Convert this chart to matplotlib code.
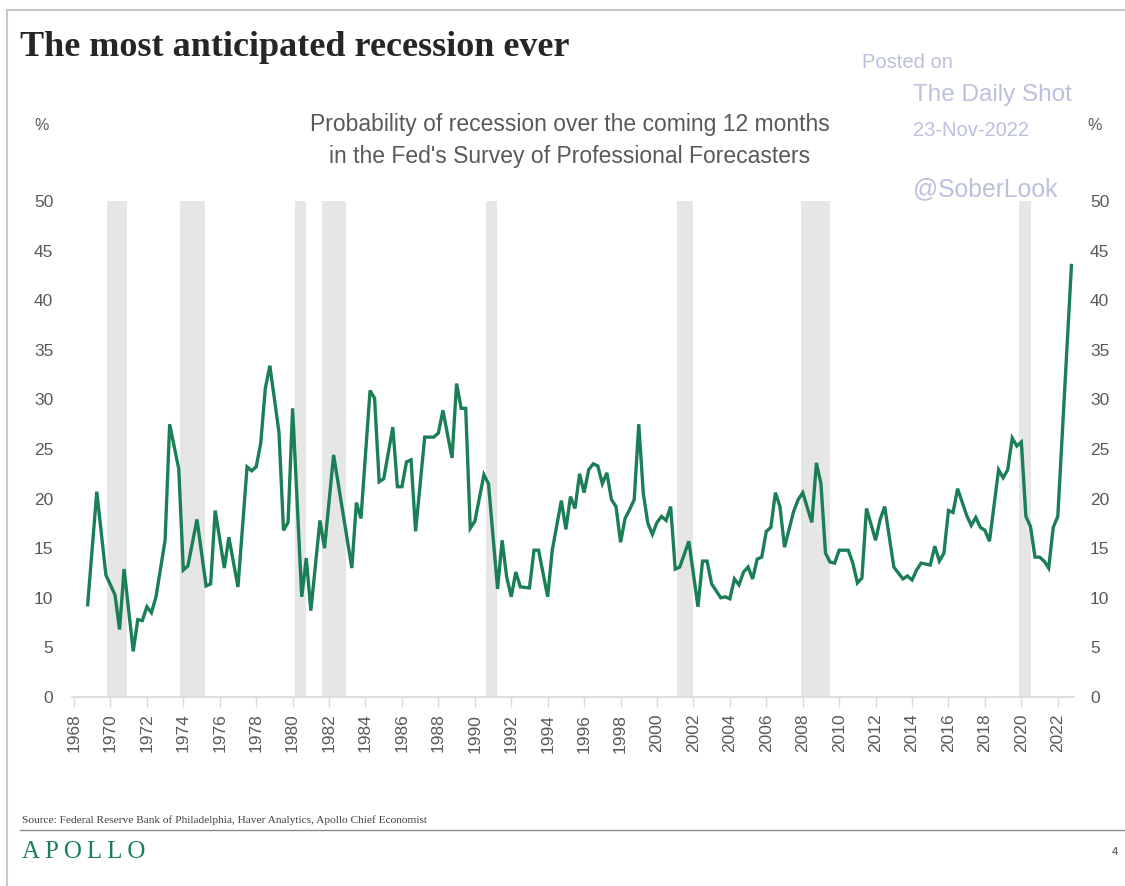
import matplotlib
matplotlib.use("Agg")
import matplotlib.pyplot as plt
from matplotlib.lines import Line2D

W, H = 1125, 886

# quarterly survey readings (decimal year, % probability)
quarters = [
    1968.75, 1969.25, 1969.75, 1970.25, 1970.5, 1970.75, 1971.25, 1971.5, 1971.75, 1972.0,
    1972.25, 1972.5, 1973.0, 1973.25, 1973.75, 1974.0, 1974.25, 1974.75, 1975.25, 1975.5,
    1975.75, 1976.25, 1976.5, 1977.0, 1977.5, 1977.75, 1978.0, 1978.25, 1978.5, 1978.75,
    1979.25, 1979.5, 1979.75, 1980.0, 1980.5, 1980.75, 1981.0, 1981.5, 1981.75, 1982.25,
    1983.25, 1983.5, 1983.75, 1984.25, 1984.5, 1984.75, 1985.0, 1985.5, 1985.75, 1986.0,
    1986.25, 1986.5, 1986.75, 1987.25, 1987.75, 1988.0, 1988.25, 1988.75, 1989.0, 1989.25,
    1989.5, 1989.75, 1990.0, 1990.5, 1990.75, 1991.25, 1991.5, 1991.75, 1992.0, 1992.25,
    1992.5, 1993.0, 1993.25, 1993.5, 1994.0, 1994.25, 1994.75, 1995.0, 1995.25, 1995.5,
    1995.75, 1996.0, 1996.25, 1996.5, 1996.75, 1997.0, 1997.25, 1997.5, 1997.75, 1998.0,
    1998.25, 1998.5, 1998.75, 1999.0, 1999.25, 1999.5, 1999.75, 2000.0, 2000.25, 2000.5,
    2000.75, 2001.0, 2001.25, 2001.75, 2002.25, 2002.5, 2002.75, 2003.0, 2003.5, 2003.75,
    2004.0, 2004.25, 2004.5, 2004.75, 2005.0, 2005.25, 2005.5, 2005.75, 2006.0, 2006.25,
    2006.5, 2006.75, 2007.0, 2007.5, 2007.75, 2008.0, 2008.5, 2008.75, 2009.0, 2009.25,
    2009.5, 2009.75, 2010.0, 2010.25, 2010.5, 2010.75, 2011.0, 2011.25, 2011.5, 2012.0,
    2012.25, 2012.5, 2013.0, 2013.5, 2013.75, 2014.0, 2014.25, 2014.5, 2015.0, 2015.25,
    2015.5, 2015.75, 2016.0, 2016.25, 2016.5, 2017.0, 2017.25, 2017.5, 2017.75, 2018.0,
    2018.25, 2018.75, 2019.0, 2019.25, 2019.5, 2019.75, 2020.0, 2020.25, 2020.5, 2020.75,
    2021.0, 2021.25, 2021.5, 2021.75, 2022.0, 2022.75,
]
prob = [
    9.3, 20.7, 12.3, 10.3, 6.8, 12.9, 4.6, 7.8, 7.7, 9.1,
    8.5, 10.1, 15.8, 27.5, 23.0, 12.8, 13.2, 17.9, 11.2, 11.4,
    18.8, 13.0, 16.1, 11.1, 23.2, 22.8, 23.2, 25.6, 31.1, 33.4,
    26.7, 16.8, 17.6, 29.1, 10.1, 14.0, 8.7, 17.8, 15.0, 24.4,
    13.0, 19.6, 18.0, 30.9, 30.1, 21.7, 22.0, 27.2, 21.2, 21.2,
    23.7, 23.9, 16.7, 26.2, 26.2, 26.6, 28.9, 24.1, 31.6, 29.1,
    29.1, 17.0, 17.7, 22.4, 21.5, 10.9, 15.8, 12.1, 10.1, 12.6,
    11.1, 11.0, 14.8, 14.8, 10.1, 14.8, 19.8, 16.9, 20.2, 19.0,
    22.5, 20.6, 22.9, 23.5, 23.3, 21.5, 22.6, 19.9, 19.2, 15.6,
    18.0, 18.9, 19.9, 27.5, 20.5, 17.5, 16.4, 17.6, 18.2, 17.8,
    19.2, 12.9, 13.1, 15.7, 9.1, 13.7, 13.7, 11.4, 10.0, 10.1,
    9.9, 11.9, 11.3, 12.6, 13.1, 11.9, 13.9, 14.1, 16.7, 17.1,
    20.6, 19.2, 15.1, 18.7, 19.9, 20.6, 17.6, 23.6, 21.5, 14.5,
    13.6, 13.5, 14.8, 14.8, 14.8, 13.5, 11.5, 12.0, 19.0, 15.8,
    17.9, 19.2, 13.1, 11.9, 12.2, 11.8, 12.8, 13.5, 13.3, 15.2,
    13.7, 14.5, 18.8, 18.6, 21.0, 18.3, 17.3, 18.1, 17.1, 16.8,
    15.7, 22.9, 22.1, 22.9, 26.1, 25.3, 25.7, 18.2, 17.2, 14.1,
    14.1, 13.7, 13.0, 17.1, 18.2, 43.5,
]

# NBER recessions (shaded)
rec_start = [1969.79, 1973.82, 1980.13, 1981.59, 1990.61, 2001.10, 2007.90, 2019.87]
rec_end = [1970.92, 1975.19, 1980.73, 1982.91, 1991.23, 2001.98, 2009.49, 2020.51]

year_ticks = list(range(1968, 2023, 2))
pct_ticks = list(range(0, 51, 5))

GREEN = "#1b7f56"
GREY_TXT = "#595959"
WATERMARK = "#bcc0dc"


def fx(px):
    return px / W


def fy(py):
    return 1 - py / H


fig = plt.figure(figsize=(W / 100, H / 100), dpi=100)
fig.patch.set_facecolor("white")

ax = fig.add_axes([fx(72), fy(697), fx(1074) - fx(72), fy(201) - fy(697)])
ax.set_xlim(1967.89, 2022.89)
ax.set_ylim(0, 50)

for s, e in zip(rec_start, rec_end):
    ax.axvspan(s, e, ymin=0, ymax=1, color="#e6e6e6", lw=0, zorder=1)

ax.plot(quarters, prob, color=GREEN, lw=2.4, zorder=3, solid_joinstyle="miter")

for side in ["top", "left", "right"]:
    ax.spines[side].set_visible(False)
ax.spines["bottom"].set_color("#d9d9d9")
ax.spines["bottom"].set_linewidth(1.2)

ax.set_xticks(year_ticks)
ax.set_xticklabels([str(y) for y in year_ticks], rotation=90, fontsize=12.5,
                   color=GREY_TXT, fontfamily="Liberation Sans")
ax.tick_params(axis="x", direction="out", length=7, width=1, color="#d9d9d9", pad=5)

ax.set_yticks(pct_ticks)
ax.set_yticklabels([str(v) for v in pct_ticks], fontsize=12.5, color=GREY_TXT,
                   fontfamily="Liberation Sans")
ax.tick_params(axis="y", length=0, pad=13.5)

ax2 = ax.twinx()
ax2.set_ylim(0, 50)
ax2.set_yticks(pct_ticks)
ax2.set_yticklabels([str(v) for v in pct_ticks], fontsize=12.5, color=GREY_TXT,
                    fontfamily="Liberation Sans")
ax2.tick_params(axis="y", length=0, pad=11.5)
for side in ["top", "left", "right", "bottom"]:
    ax2.spines[side].set_visible(False)

# slide frame
fig.add_artist(Line2D([fx(7), fx(1125)], [fy(10), fy(10)], color="#c8c8c8", lw=1.5))
fig.add_artist(Line2D([fx(7), fx(7)], [fy(10), fy(886)], color="#c8c8c8", lw=1.5))
fig.add_artist(Line2D([fx(20), fx(1125)], [fy(830), fy(830)], color="#8c8c8c", lw=1))

fig.text(fx(20), fy(48), "The most anticipated recession ever", fontsize=26,
         fontfamily="Liberation Serif", fontweight="bold", color="#262626", va="center")

fig.text(fx(570), fy(125), "Probability of recession over the coming 12 months",
         fontsize=16.5, color=GREY_TXT, ha="center", va="center", fontfamily="Liberation Sans")
fig.text(fx(570), fy(157), "in the Fed's Survey of Professional Forecasters",
         fontsize=16.5, color=GREY_TXT, ha="center", va="center", fontfamily="Liberation Sans")

fig.text(fx(42), fy(125), "%", fontsize=11.5, color=GREY_TXT, ha="center", va="center",
         fontfamily="Liberation Sans")
fig.text(fx(1095), fy(125), "%", fontsize=11.5, color=GREY_TXT, ha="center", va="center",
         fontfamily="Liberation Sans")

# watermark
fig.text(fx(862), fy(63), "Posted on", fontsize=14.5, color=WATERMARK, va="center",
         fontfamily="Liberation Sans")
fig.text(fx(913), fy(95), "The Daily Shot", fontsize=17.5, color=WATERMARK, va="center",
         fontfamily="Liberation Sans")
fig.text(fx(913), fy(131), "23-Nov-2022", fontsize=14.5, color=WATERMARK, va="center",
         fontfamily="Liberation Sans")
fig.text(fx(913), fy(189), "@SoberLook", fontsize=17.8, color=WATERMARK, va="center",
         fontfamily="Liberation Sans")

fig.text(fx(22), fy(820),
         "Source: Federal Reserve Bank of Philadelphia, Haver Analytics, Apollo Chief Economist",
         fontsize=8.2, color="#404040", va="center", fontfamily="Liberation Serif")
fig.text(fx(22), fy(852), "A\u2009P\u2009O\u2009L\u2009L\u2009O", fontsize=18, color=GREEN,
         va="center", fontfamily="Liberation Serif")
fig.text(fx(1112), fy(852), "4", fontsize=8, color="#404040", va="center",
         fontfamily="Liberation Sans")

fig.savefig("out.png", dpi=100)
